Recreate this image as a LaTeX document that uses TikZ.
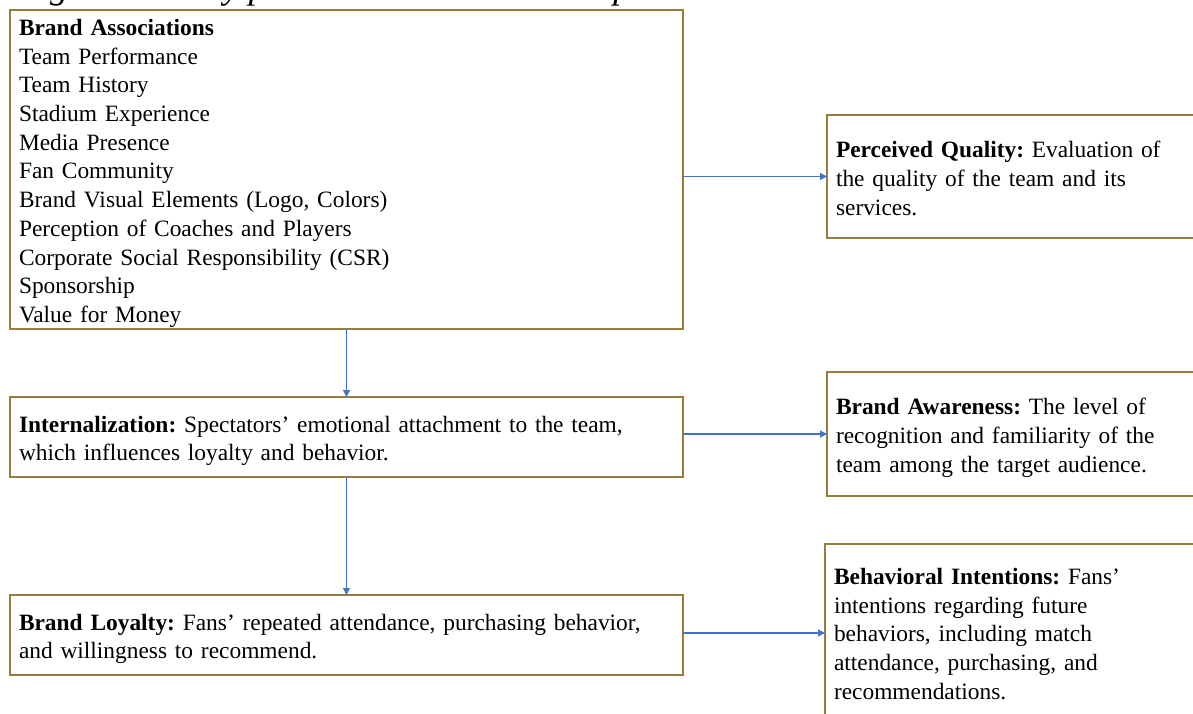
\documentclass[tikz,border=0pt]{standalone}
\usepackage{fontspec}
\setmainfont{Liberation Serif}
\usetikzlibrary{arrows.meta}
\definecolor{boxline}{RGB}{150,124,62}
\definecolor{arrowblue}{RGB}{68,114,196}
% invisible strut that adds room above the first line of a box
\newcommand\topgap[1]{\rule{0pt}{#1}}

\begin{document}
\frenchspacing
\begin{tikzpicture}[x=1pt,y=-1pt,
  box/.style={draw=boxline,line width=1.8pt,rectangle,align=left,
    anchor=north west,inner xsep=9pt,inner ysep=0pt,outer sep=0pt,
    font=\fontsize{23.4}{28.7}\selectfont},
  link/.style={draw=arrowblue,line width=1.1pt,
    -{Triangle[length=7pt,width=7pt]}}]

\useasboundingbox (0,0) rectangle (1193,713);
\clip (0,0) rectangle (1193,713);

% caption line, its body above the page edge
\node[anchor=base west,inner sep=0pt,font=\fontsize{36}{40}\selectfont\itshape]
  (cap) at (18,-1.2) {Figure 1. Study process model: the club spectator};

% left column
\node[box,minimum width=673pt,minimum height=319pt,text width=655pt] (assoc) at (10,10)
  {\topgap{24pt}\textbf{Brand Associations}\\
   Team Performance\\
   Team History\\
   Stadium Experience\\
   Media Presence\\
   Fan Community\\
   Brand Visual Elements (Logo, Colors)\\
   Perception of Coaches and Players\\
   Corporate Social Responsibility (CSR)\\
   Sponsorship\\
   Value for Money};

\node[box,minimum width=673pt,minimum height=80pt,text width=655pt] (intern) at (10,397)
  {\topgap{24pt}\textbf{Internalization:} Spectators’ emotional attachment to the team,\\
   which influences loyalty and behavior.};

\node[box,minimum width=673pt,minimum height=80pt,text width=655pt] (loyal) at (10,595)
  {\topgap{24pt}\textbf{Brand Loyalty:} Fans’ repeated attendance, purchasing behavior,\\
   and willingness to recommend.};

% right column
\node[box,minimum width=380pt,minimum height=123pt,text width=362pt] (quality) at (827,115)
  {\topgap{20pt}\textbf{Perceived Quality:} Evaluation of\\
   the quality of the team and its\\
   services.};

\node[box,minimum width=380pt,minimum height=124pt,text width=362pt] (aware) at (827,372)
  {\topgap{24pt}\textbf{Brand Awareness:} The level of\\
   recognition and familiarity of the\\
   team among the target audience.};

\node[box,minimum width=380pt,minimum height=178pt,text width=362pt] (intent) at (825,544)
  {\topgap{18pt}\textbf{Behavioral Intentions:} Fans’\\
   intentions regarding future\\
   behaviors, including match\\
   attendance, purchasing, and\\
   recommendations.};

% connectors
\draw[link] (assoc.south) -- (intern.north);
\draw[link] (intern.south) -- (loyal.north);
\draw[link] (quality.west -| assoc.east) -- (quality.west);
\draw[link] (aware.west -| intern.east) -- (aware.west);
\draw[link] (intent.west -| loyal.east) -- (intent.west);
\end{tikzpicture}
\end{document}
